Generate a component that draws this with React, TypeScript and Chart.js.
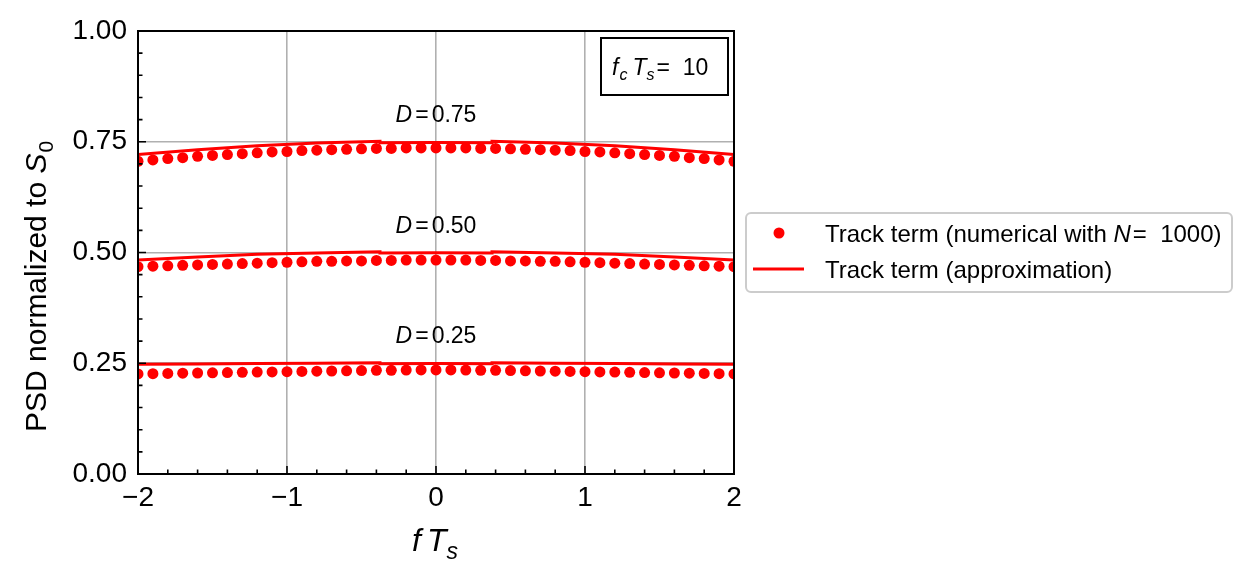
import React, { useEffect, useRef } from "react";
import { Chart, registerables } from "chart.js";

Chart.register(...registerables);

// numerical samples (f T_s)
const fNum = [
  -2.0, -1.9, -1.8, -1.7, -1.6, -1.5, -1.4, -1.3, -1.2, -1.1, -1.0, -0.9, -0.8, -0.7, -0.6, -0.5, -0.4, -0.3, -0.2, -0.1,
  0.0, 0.1, 0.2, 0.3, 0.4, 0.5, 0.6, 0.7, 0.8, 0.9, 1.0, 1.1, 1.2, 1.3, 1.4, 1.5, 1.6, 1.7, 1.8, 1.9, 2.0,
];
const dots075 = [
  0.706, 0.709, 0.712, 0.714, 0.717, 0.719, 0.721, 0.723, 0.725, 0.727, 0.728, 0.730, 0.731, 0.732, 0.733, 0.734, 0.735, 0.735, 0.736, 0.736,
  0.736, 0.736, 0.736, 0.735, 0.735, 0.734, 0.733, 0.732, 0.731, 0.730, 0.728, 0.727, 0.725, 0.723, 0.721, 0.719, 0.717, 0.714, 0.712, 0.709, 0.706,
];
const dots050 = [
  0.468, 0.469, 0.470, 0.471, 0.472, 0.473, 0.474, 0.475, 0.476, 0.477, 0.478, 0.479, 0.480, 0.480, 0.481, 0.481, 0.482, 0.482, 0.483, 0.483,
  0.483, 0.483, 0.483, 0.482, 0.482, 0.481, 0.481, 0.480, 0.480, 0.479, 0.478, 0.477, 0.476, 0.475, 0.474, 0.473, 0.472, 0.471, 0.470, 0.469, 0.468,
];
const dots025 = [
  0.226, 0.2265, 0.227, 0.2275, 0.228, 0.2285, 0.229, 0.2295, 0.230, 0.2305, 0.231, 0.2315, 0.232, 0.2325, 0.233, 0.2335, 0.234, 0.234, 0.2345, 0.235,
  0.235, 0.235, 0.2345, 0.234, 0.234, 0.2335, 0.233, 0.2325, 0.232, 0.2315, 0.231, 0.2305, 0.230, 0.2295, 0.229, 0.2285, 0.228, 0.2275, 0.227, 0.2265, 0.226,
];

// approximation curve samples
const fLine = [-2, -1.6, -1.2, -0.8, -0.376, -0.376, 0, 0.376, 0.376, 0.8, 1.2, 1.6, 2];
const line075 = [0.721, 0.732, 0.741, 0.747, 0.751, 0.748, 0.7485, 0.748, 0.751, 0.747, 0.741, 0.732, 0.721];
const line050 = [0.483, 0.490, 0.496, 0.499, 0.5015, 0.499, 0.4995, 0.499, 0.5015, 0.499, 0.496, 0.490, 0.483];
const line025 = [0.2475, 0.2485, 0.2495, 0.250, 0.251, 0.249, 0.2495, 0.249, 0.251, 0.250, 0.2495, 0.2485, 0.2475];

const xTicks = [-2, -1, 0, 1, 2];
const yTicks = [0, 0.25, 0.5, 0.75, 1.0];
const dLabels = ["0.75", "0.50", "0.25"];
const dLabelY = [0.795, 0.545, 0.295];

const RED = "#ff0000";
const FONT = '"Liberation Sans", Arial, sans-serif';

type Run = { t: string; italic?: boolean; size: number; dy?: number; gap?: number };

function drawRuns(ctx: CanvasRenderingContext2D, runs: Run[], x: number, y: number) {
  let cx = x;
  for (const r of runs) {
    ctx.font = `${r.italic ? "italic " : ""}${r.size}px ${FONT}`;
    ctx.fillText(r.t, cx, y + (r.dy || 0));
    cx += ctx.measureText(r.t).width + (r.gap || 0);
  }
  return cx;
}
function runsWidth(ctx: CanvasRenderingContext2D, runs: Run[]) {
  let w = 0;
  for (const r of runs) {
    ctx.font = `${r.italic ? "italic " : ""}${r.size}px ${FONT}`;
    w += ctx.measureText(r.t).width + (r.gap || 0);
  }
  return w;
}

const decorPlugin = {
  id: "decor",
  afterDraw(chart: any) {
    const ctx: CanvasRenderingContext2D = chart.ctx;
    const { left, right, top, bottom } = chart.chartArea;
    const xs = chart.scales.x;
    const ys = chart.scales.y;
    ctx.save();
    ctx.fillStyle = "#000";
    ctx.strokeStyle = "#000";

    // ticks (inward)
    ctx.lineWidth = 1.6;
    ctx.beginPath();
    for (let i = -20; i <= 20; i += 2) {
      const v = i / 10;
      const px = xs.getPixelForValue(v);
      const len = i % 10 === 0 ? 8 : 4.5;
      ctx.moveTo(px, bottom);
      ctx.lineTo(px, bottom - len);
    }
    for (let i = 0; i <= 20; i++) {
      const v = i / 20;
      const py = ys.getPixelForValue(v);
      const len = i % 5 === 0 ? 8 : 4.5;
      ctx.moveTo(left, py);
      ctx.lineTo(left + len, py);
    }
    ctx.stroke();

    // frame
    ctx.lineWidth = 2;
    ctx.strokeRect(left, top, right - left, bottom - top);

    // D annotations
    ctx.textAlign = "left";
    ctx.textBaseline = "alphabetic";
    for (let k = 0; k < dLabels.length; k++) {
      const runs: Run[] = [
        { t: "D", italic: true, size: 23, gap: 3 },
        { t: "=", size: 23, gap: 3 },
        { t: dLabels[k], size: 23 },
      ];
      const w = runsWidth(ctx, runs);
      const cx = xs.getPixelForValue(0);
      drawRuns(ctx, runs, cx - w / 2, ys.getPixelForValue(dLabelY[k]));
    }

    // fc Ts box
    ctx.fillStyle = "#fff";
    ctx.fillRect(601, 38, 127, 57);
    ctx.lineWidth = 2;
    ctx.strokeStyle = "#000";
    ctx.strokeRect(601, 38, 127, 57);
    ctx.fillStyle = "#000";
    drawRuns(
      ctx,
      [
        { t: "f", italic: true, size: 23, gap: 1 },
        { t: "c", italic: true, size: 16, dy: 5, gap: 5 },
        { t: "T", italic: true, size: 23, gap: 0 },
        { t: "s", italic: true, size: 16, dy: 5, gap: 2 },
        { t: "=  10", size: 23 },
      ],
      612,
      75
    );

    // legend
    const lx = 746, ly = 213, lw = 486, lh = 79;
    ctx.beginPath();
    (ctx as any).roundRect(lx, ly, lw, lh, 5);
    ctx.fillStyle = "rgba(255,255,255,0.8)";
    ctx.fill();
    ctx.strokeStyle = "#cccccc";
    ctx.lineWidth = 2;
    ctx.stroke();
    ctx.fillStyle = RED;
    ctx.beginPath();
    ctx.arc(779, 233, 5.5, 0, Math.PI * 2);
    ctx.fill();
    ctx.strokeStyle = RED;
    ctx.lineWidth = 3;
    ctx.beginPath();
    ctx.moveTo(753, 269);
    ctx.lineTo(804, 269);
    ctx.stroke();
    ctx.fillStyle = "#000";
    drawRuns(
      ctx,
      [
        { t: "Track term (numerical with ", size: 24 },
        { t: "N", italic: true, size: 24, gap: 2 },
        { t: "=  1000)", size: 24 },
      ],
      825,
      242
    );
    drawRuns(ctx, [{ t: "Track term (approximation)", size: 24 }], 825, 278);

    // x title
    drawRuns(
      ctx,
      [
        { t: "f", italic: true, size: 32, gap: 6 },
        { t: "T", italic: true, size: 32, gap: 0 },
        { t: "s", italic: true, size: 23, dy: 8 },
      ],
      412,
      551
    );

    // y title
    ctx.save();
    ctx.translate(46, 432);
    ctx.rotate(-Math.PI / 2);
    drawRuns(
      ctx,
      [
        { t: "PSD normalized to ", size: 30 },
        { t: "S", italic: true, size: 30, gap: 1 },
        { t: "0", size: 21, dy: 7 },
      ],
      0,
      0
    );
    ctx.restore();

    ctx.restore();
  },
};

export default function App() {
  const ref = useRef<HTMLCanvasElement | null>(null);
  useEffect(() => {
    document.body.style.margin = "0";
    const canvas = ref.current!;
    const mk = (ys: number[]) => fNum.map((x, i) => ({ x, y: ys[i] }));
    const mkL = (ys: number[]) => fLine.map((x, i) => ({ x, y: ys[i] }));
    const dotStyle = {
      showLine: false,
      pointRadius: 5.5,
      pointBackgroundColor: RED,
      pointBorderWidth: 0,
      borderColor: RED,
      backgroundColor: RED,
      clip: 0,
    };
    const lineStyle = {
      showLine: true,
      pointRadius: 0,
      borderColor: RED,
      borderWidth: 3,
      tension: 0,
      clip: 0,
    };
    const chart = new Chart(canvas, {
      type: "scatter",
      data: {
        datasets: [
          { label: "D075 line", data: mkL(line075), ...lineStyle },
          { label: "D050 line", data: mkL(line050), ...lineStyle },
          { label: "D025 line", data: mkL(line025), ...lineStyle },
          { label: "D075 num", data: mk(dots075), ...dotStyle },
          { label: "D050 num", data: mk(dots050), ...dotStyle },
          { label: "D025 num", data: mk(dots025), ...dotStyle },
        ] as any,
      },
      options: {
        animation: false,
        responsive: false,
        devicePixelRatio: 1,
        layout: { padding: { left: 0, top: 31, right: 515, bottom: 0 } },
        plugins: { legend: { display: false }, tooltip: { enabled: false } },
        scales: {
          x: {
            type: "linear",
            min: -2,
            max: 2,
            afterBuildTicks: (s: any) => {
              s.ticks = xTicks.map((v) => ({ value: v }));
            },
            afterFit: (s: any) => {
              s.height = 109;
            },
            ticks: {
              padding: 7,
              color: "#000",
              font: { size: 28, family: FONT },
              maxRotation: 0,
              callback: (v: any) => (v < 0 ? "\u2212" + Math.abs(v) : String(v)),
            },
            grid: { color: "#b0b0b0", lineWidth: 1.6, drawTicks: false },
            border: { display: false },
          },
          y: {
            type: "linear",
            min: 0,
            max: 1,
            afterBuildTicks: (s: any) => {
              s.ticks = yTicks.map((v) => ({ value: v }));
            },
            afterFit: (s: any) => {
              s.width = 138;
            },
            ticks: {
              padding: 11,
              color: "#000",
              font: { size: 28, family: FONT },
              callback: (v: any) => Number(v).toFixed(2),
            },
            grid: { color: "#b0b0b0", lineWidth: 1.6, drawTicks: false },
            border: { display: false },
          },
        },
      } as any,
      plugins: [decorPlugin],
    });
    return () => chart.destroy();
  }, []);
  return <canvas ref={ref} width={1249} height={583} style={{ display: "block", width: 1249, height: 583 }} />;
}
